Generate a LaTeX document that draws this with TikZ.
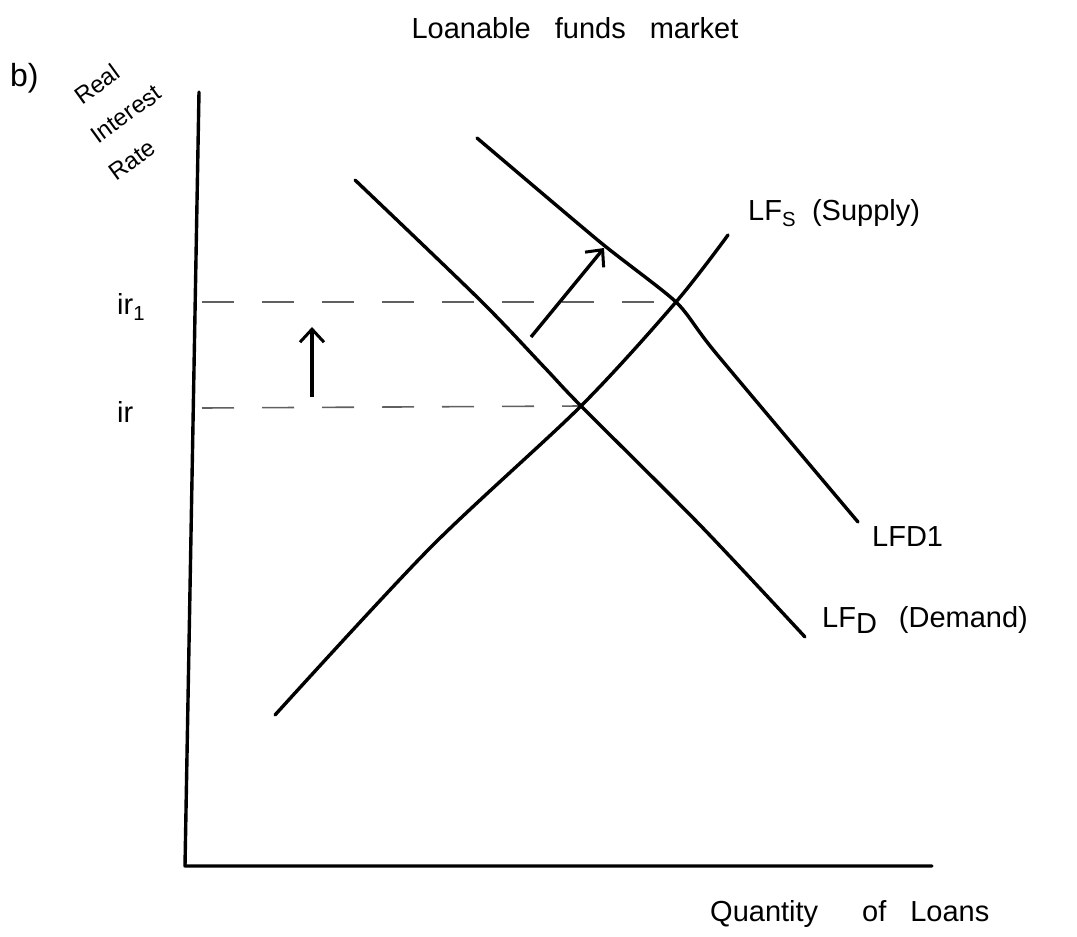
\documentclass[tikz,border=0pt]{standalone}
\usepackage{fontspec}
\setmainfont{Liberation Sans}
\usetikzlibrary{arrows.meta}
\begin{document}
\begin{tikzpicture}[x=1pt,y=-1pt,
  curve/.style={line width=3.4pt,line cap=round,line join=round},
  guide/.style={line width=1.6pt,gray!75!black,dash pattern=on 32pt off 28pt},
  shift arrow/.style={line width=3.4pt,-{Straight Barb[length=13pt,width=24pt,line width=3pt]}},
  lbl/.style={font=\fontsize{29}{34}\selectfont,inner sep=0pt},
  ylbl/.style={font=\fontsize{24}{30}\selectfont,inner sep=0pt,rotate=36}]
\useasboundingbox (0,0) rectangle (1077,937);
% axes
\coordinate (ytop) at (199,92);
\coordinate (origin) at (185,866);
\coordinate (xend) at (932,866);
\draw[curve] (ytop) -- (origin) -- (xend);
% intersections
\coordinate (e0) at (581,406);
\coordinate (e1) at (676,302);
% guides
\coordinate (g0) at (202,408);
\coordinate (g1) at (202,302);
\draw[guide] (g1) -- (e1);
\draw[guide] (g0) -- (e0);
% supply
\draw[curve] plot[smooth,tension=0.5] coordinates {(275,715) (430,548) (e0) (e1) (728,235)};
% demand
\draw[curve] plot[smooth,tension=0.5] coordinates {(355,180) (480,300) (545,368) (e0) (700,525) (805,637)};
% demand 1
\draw[curve] plot[smooth,tension=0.4] coordinates {(477,138) (600,242) (e1) (715,352) (858,522)};
% shift arrows
\coordinate (a0) at (312,397);
\coordinate (a1) at (312,327);
\draw[shift arrow] (a0) -- (a1);
\coordinate (b0) at (531,337);
\coordinate (b1) at (604,248);
\draw[shift arrow] (b0) -- (b1);
% labels
\node[lbl] (title) at (575,28) {Loanable\hspace{24pt}funds\hspace{24pt}market};
\node[lbl,font=\fontsize{32}{36}\selectfont,anchor=west] (part) at (10,78) {b)};
\node[ylbl] (yl1) at (97,84) {Real};
\node[ylbl] (yl2) at (126,114) {Interest};
\node[ylbl] (yl3) at (132,160) {Rate};
\node[lbl,anchor=west] (ir1) at (117,307) {ir\textsubscript{1}};
\node[lbl,anchor=west] (ir) at (117,412) {ir};
\node[lbl,anchor=west] (lfs) at (748,213) {LF\textsubscript{S}\hspace{16pt}(Supply)};
\node[lbl,anchor=west] (lfd1) at (872,537) {LFD1};
\node[lbl,anchor=west] (lfd) at (822,620) {LF\raisebox{-6pt}{D}\hspace{22pt}(Demand)};
\node[lbl,anchor=west] (xlab) at (710,914) {Quantity\hspace{44pt}of\hspace{24pt}Loans};
\end{tikzpicture}
\end{document}
